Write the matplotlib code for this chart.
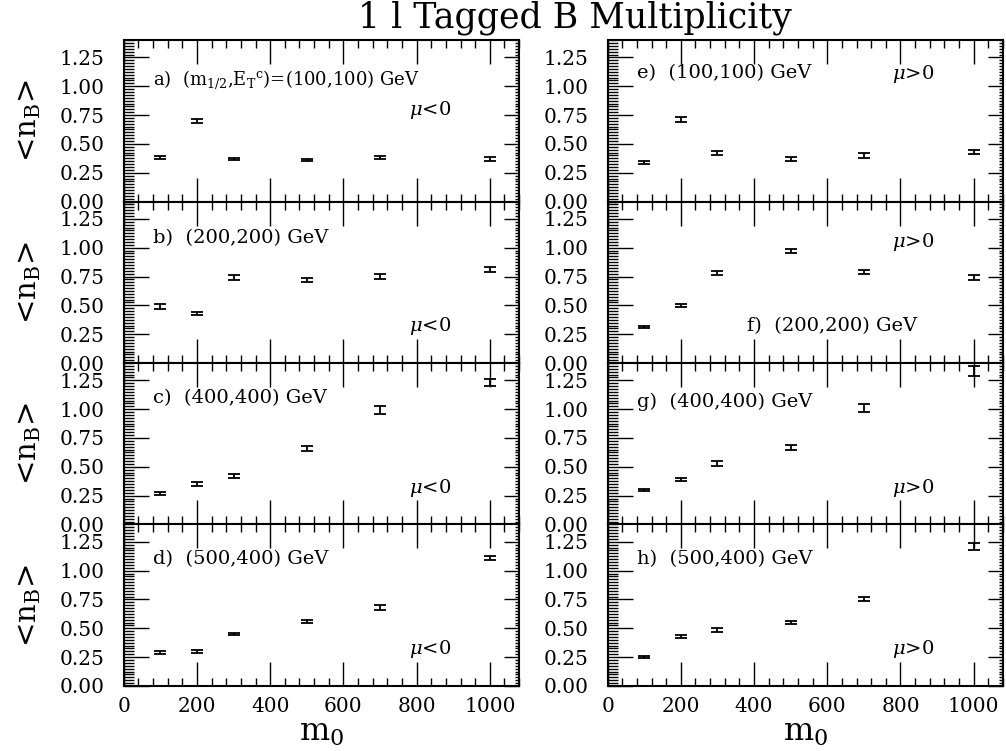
import numpy as np
import matplotlib
matplotlib.use('Agg')
from matplotlib import pyplot as plt
from matplotlib.ticker import MultipleLocator

plt.rcParams['font.family'] = ['DejaVu Serif']
plt.rcParams['mathtext.fontset'] = 'dejavuserif'

m0 = [100, 200, 300, 500, 700, 1000]

# mu < 0 column
nb_a = [0.38, 0.70, 0.37, 0.36, 0.38, 0.37]
err_a = [0.012, 0.02, 0.012, 0.012, 0.015, 0.015]
nb_b = [0.49, 0.43, 0.74, 0.72, 0.75, 0.81]
err_b = [0.02, 0.015, 0.02, 0.02, 0.02, 0.02]
nb_c = [0.27, 0.35, 0.42, 0.66, 0.99, 1.23]
err_c = [0.01, 0.015, 0.02, 0.02, 0.035, 0.03]
nb_d = [0.29, 0.30, 0.45, 0.56, 0.68, 1.11]
err_d = [0.01, 0.01, 0.012, 0.015, 0.02, 0.02]

# mu > 0 column
nb_e = [0.34, 0.71, 0.42, 0.37, 0.40, 0.43]
err_e = [0.01, 0.02, 0.015, 0.015, 0.02, 0.02]
nb_f = [0.31, 0.50, 0.78, 0.97, 0.79, 0.74]
err_f = [0.01, 0.015, 0.02, 0.02, 0.02, 0.02]
nb_g = [0.30, 0.39, 0.53, 0.67, 1.01, 1.33]
err_g = [0.01, 0.015, 0.02, 0.02, 0.035, 0.04]
nb_h = [0.25, 0.43, 0.485, 0.55, 0.755, 1.21]
err_h = [0.01, 0.012, 0.015, 0.015, 0.015, 0.03]

left_data = [(nb_a, err_a), (nb_b, err_b), (nb_c, err_c), (nb_d, err_d)]
right_data = [(nb_e, err_e), (nb_f, err_f), (nb_g, err_g), (nb_h, err_h)]

left_labels = [r'a)  (m$_{1/2}$,E$_\mathrm{T}$$^\mathrm{c}$)=(100,100) GeV',
               'b)  (200,200) GeV', 'c)  (400,400) GeV', 'd)  (500,400) GeV']
right_labels = ['e)  (100,100) GeV', 'f)  (200,200) GeV',
                'g)  (400,400) GeV', 'h)  (500,400) GeV']
# (x, y) of the panel label and the mu label, in data units
left_label_pos = [(80, 1.06), (80, 1.08), (80, 1.10), (80, 1.10)]
left_mu_pos = [(780, 0.79), (780, 0.32), (780, 0.32), (780, 0.32)]
right_label_pos = [(79, 1.11), (380, 0.32), (79, 1.06), (79, 1.10)]
right_mu_pos = [(778, 1.11), (778, 1.05), (778, 0.32), (778, 0.32)]

fig = plt.figure(figsize=(10.06, 7.51), dpi=100)

col_x = [0.123, 0.604]
col_w = 0.393
bottom = 0.0866
row_h = 0.2150


def style_axis(ax, show_x):
    ax.set_xlim(0, 1080)
    ax.set_ylim(0, 1.4)
    ax.xaxis.set_major_locator(MultipleLocator(200))
    ax.xaxis.set_minor_locator(MultipleLocator(40))
    ax.yaxis.set_major_locator(MultipleLocator(0.25))
    ax.yaxis.set_minor_locator(MultipleLocator(0.025))
    ax.tick_params(which='both', direction='in', top=True, right=True,
                   width=1.0, labelsize=14.5)
    ax.tick_params(axis='x', which='major', length=17, pad=8)
    ax.tick_params(axis='x', which='minor', length=6)
    ax.tick_params(axis='y', which='major', length=18, pad=14)
    ax.tick_params(axis='y', which='minor', length=7)
    # shorter ticks on the right edge
    for t in ax.yaxis.get_major_ticks():
        t.tick2line.set_markersize(11)
    for t in ax.yaxis.get_minor_ticks():
        t.tick2line.set_markersize(3)
    ax.yaxis.set_major_formatter(plt.FormatStrFormatter('%.2f'))
    for s in ax.spines.values():
        s.set_linewidth(1.5)
    if not show_x:
        ax.tick_params(axis='x', labelbottom=False)
    else:
        ax.set_xlabel(r'm$_0$', fontsize=23, labelpad=1)


for col in range(2):
    data = left_data if col == 0 else right_data
    labels = left_labels if col == 0 else right_labels
    lab_pos = left_label_pos if col == 0 else right_label_pos
    mu_pos = left_mu_pos if col == 0 else right_mu_pos
    mu_txt = r'$\mu$<0' if col == 0 else r'$\mu$>0'
    for row in range(4):
        y0 = bottom + (3 - row) * row_h
        ax = fig.add_axes([col_x[col], y0, col_w, row_h])
        vals, errs = data[row]
        ax.errorbar(m0, vals, yerr=errs, fmt='none', ecolor='black',
                    elinewidth=1.3, capsize=4, capthick=1.3, clip_on=False)
        fs = 13 if row == 0 and col == 0 else 14
        ax.text(lab_pos[row][0], lab_pos[row][1], labels[row], fontsize=fs,
                va='center', ha='left')
        ax.text(mu_pos[row][0], mu_pos[row][1], mu_txt, fontsize=14,
                va='center', ha='left')
        style_axis(ax, row == 3)
        if col == 0:
            ax.set_ylabel(r'<n$_\mathrm{B}$>', fontsize=21, labelpad=12)

fig.text(0.572, 0.976, '1 l Tagged B Multiplicity', fontsize=25,
         ha='center', va='center')

fig.savefig('out.png', dpi=100)
plt.close(fig)
